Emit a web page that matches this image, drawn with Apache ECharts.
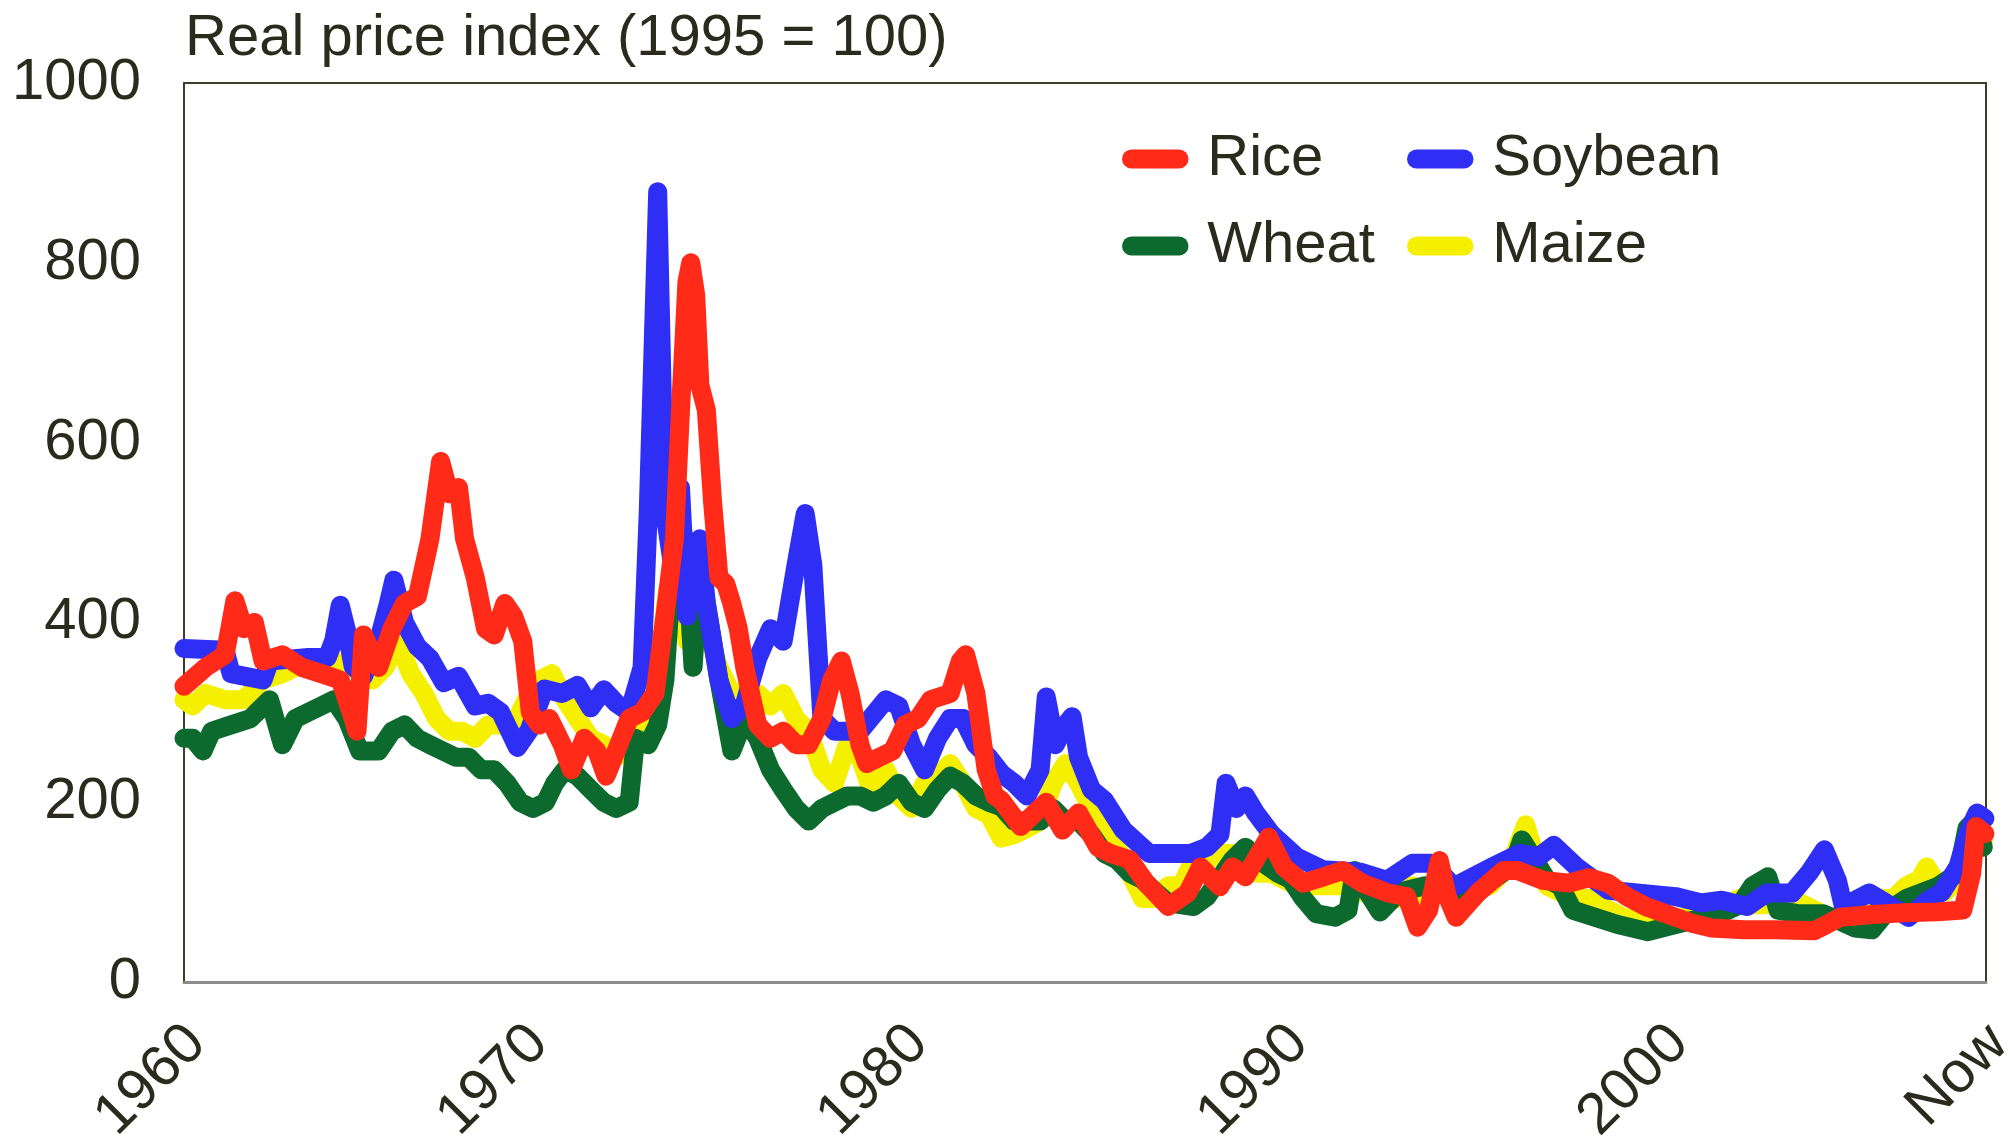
<!DOCTYPE html>
<html>
<head>
<meta charset="utf-8">
<title>Real price index</title>
<script src="https://cdn.jsdelivr.net/npm/echarts@6/dist/echarts.min.js"></script>
<style>
  html, body { margin: 0; padding: 0; background: #fff; }
  #chart { width: 2013px; height: 1141px; }
</style>
</head>
<body>
<div id="chart"></div>
<script>
// x range of the plot (years), label positions and their texts
var xStart = 1961;
var xEnd = 2008.4;
var xLabelValues = [1961, 1970, 1980, 1990, 2000, 2008.4];
var xLabelTexts = ['1960', '1970', '1980', '1990', '2000', 'Now'];

// [year, real price index]
var rice = [
  [1961.00, 329], [1961.57, 350], [1962.08, 364], [1962.34, 424], [1962.57, 393], [1962.85, 400],
  [1963.08, 357], [1963.59, 364], [1964.10, 350], [1964.61, 343], [1965.11, 336], [1965.45, 293],
  [1965.55, 279], [1965.72, 386], [1966.12, 350], [1966.47, 393], [1966.80, 421], [1967.14, 429],
  [1967.47, 493], [1967.75, 579], [1967.98, 543], [1968.22, 550], [1968.38, 493], [1968.66, 450],
  [1968.93, 393], [1969.16, 386], [1969.44, 421], [1969.67, 407], [1969.91, 379], [1970.11, 300],
  [1970.35, 286], [1970.61, 293], [1970.95, 264], [1971.19, 236], [1971.53, 271], [1971.86, 257],
  [1972.10, 229], [1972.37, 257], [1972.71, 293], [1973.05, 300], [1973.39, 321], [1973.65, 407],
  [1973.90, 493], [1974.06, 636], [1974.23, 779], [1974.33, 800], [1974.46, 764], [1974.57, 664],
  [1974.74, 636], [1974.90, 536], [1975.07, 450], [1975.25, 443], [1975.41, 421], [1975.58, 393],
  [1975.75, 350], [1976.09, 286], [1976.43, 271], [1976.76, 279], [1977.10, 264], [1977.43, 264],
  [1977.78, 293], [1978.04, 336], [1978.29, 357], [1978.52, 321], [1978.78, 264], [1978.96, 243],
  [1979.29, 250], [1979.64, 257], [1979.97, 286], [1980.31, 293], [1980.64, 314], [1981.15, 321],
  [1981.42, 357], [1981.56, 364], [1981.83, 321], [1982.10, 236], [1982.33, 207], [1982.50, 202],
  [1983.01, 173], [1983.68, 200], [1984.11, 169], [1984.53, 188], [1985.04, 150], [1985.37, 143],
  [1985.88, 136], [1986.31, 110], [1986.89, 84], [1987.40, 99], [1987.74, 128], [1988.25, 106],
  [1988.58, 128], [1988.92, 117], [1989.53, 161], [1989.93, 128], [1990.44, 110], [1990.98, 117],
  [1991.48, 124], [1991.99, 110], [1992.67, 99], [1993.16, 95], [1993.45, 61], [1993.74, 80],
  [1994.02, 135], [1994.23, 95], [1994.46, 72], [1995.03, 99], [1995.71, 124], [1996.08, 124],
  [1996.75, 113], [1997.43, 110], [1997.95, 116], [1998.45, 110], [1998.95, 95], [1999.45, 84],
  [1999.90, 77], [2000.30, 71], [2000.69, 65], [2001.18, 60], [2002.02, 58], [2002.87, 58],
  [2003.88, 57], [2004.21, 64], [2004.56, 72], [2005.40, 75], [2006.25, 77], [2007.12, 78],
  [2007.79, 80], [2008.02, 120], [2008.14, 173], [2008.37, 165]
];

var soybean = [
  [1961.00, 371], [1962.08, 369], [1962.24, 343], [1963.08, 336], [1963.25, 357], [1964.27, 361],
  [1964.77, 361], [1964.94, 380], [1965.11, 419], [1965.28, 390], [1965.45, 351], [1965.72, 340],
  [1966.12, 380], [1966.37, 420], [1966.52, 447], [1966.80, 400], [1967.14, 373], [1967.47, 360],
  [1967.83, 333], [1968.22, 340], [1968.66, 307], [1969.00, 310], [1969.33, 300], [1969.77, 261],
  [1970.08, 280], [1970.48, 326], [1970.95, 321], [1971.35, 330], [1971.70, 305], [1972.04, 325],
  [1972.37, 310], [1972.71, 300], [1973.05, 350], [1973.21, 521], [1973.46, 879], [1973.65, 521],
  [1973.90, 450], [1974.06, 550], [1974.23, 407], [1974.57, 493], [1974.74, 421], [1975.07, 336],
  [1975.41, 293], [1975.75, 310], [1976.09, 360], [1976.43, 393], [1976.76, 379], [1977.10, 464],
  [1977.34, 521], [1977.54, 464], [1977.78, 293], [1978.11, 279], [1978.78, 279], [1979.46, 314],
  [1979.80, 307], [1980.14, 264], [1980.48, 236], [1980.82, 271], [1981.15, 293], [1981.49, 293],
  [1981.83, 264], [1982.17, 250], [1982.50, 232], [1982.84, 221], [1983.17, 207], [1983.52, 236],
  [1983.68, 317], [1983.92, 264], [1984.19, 286], [1984.36, 295], [1984.53, 250], [1984.87, 214],
  [1985.21, 202], [1985.71, 169], [1986.39, 143], [1986.89, 143], [1987.49, 143], [1987.91, 150],
  [1988.25, 164], [1988.41, 221], [1988.68, 193], [1988.92, 207], [1989.19, 188], [1989.60, 165],
  [1990.27, 139], [1990.95, 125], [1991.96, 122], [1992.64, 113], [1993.31, 132], [1993.82, 132],
  [1994.41, 106], [1995.41, 128], [1996.13, 143], [1996.63, 139], [1997.03, 152], [1997.63, 128],
  [1998.47, 102], [2000.23, 95], [2000.91, 88], [2001.45, 91], [2002.12, 84], [2002.63, 99],
  [2003.30, 99], [2003.74, 121], [2004.15, 147], [2004.49, 113], [2004.65, 84], [2005.33, 99],
  [2005.77, 88], [2006.36, 72], [2006.84, 90], [2007.24, 100], [2007.66, 128], [2007.92, 165],
  [2008.16, 188], [2008.37, 182]
];

var wheat = [
  [1961.00, 271], [1961.23, 271], [1961.50, 257], [1961.73, 279], [1962.24, 286], [1962.75, 293],
  [1963.25, 314], [1963.59, 264], [1963.93, 293], [1964.27, 300], [1964.61, 307], [1964.94, 314],
  [1965.28, 293], [1965.62, 257], [1966.12, 257], [1966.47, 279], [1966.80, 286], [1967.14, 271],
  [1967.47, 264], [1967.81, 257], [1968.15, 250], [1968.49, 250], [1968.82, 236], [1969.16, 236],
  [1969.50, 221], [1969.84, 200], [1970.18, 193], [1970.51, 200], [1970.75, 221], [1971.02, 236],
  [1971.35, 229], [1971.70, 214], [1972.04, 200], [1972.37, 193], [1972.71, 200], [1972.88, 271],
  [1973.21, 264], [1973.46, 286], [1973.65, 336], [1973.90, 493], [1974.06, 521], [1974.23, 464],
  [1974.39, 350], [1974.57, 464], [1974.74, 421], [1975.07, 336], [1975.41, 257], [1975.75, 293],
  [1976.09, 271], [1976.43, 236], [1976.76, 214], [1977.10, 193], [1977.43, 179], [1977.78, 193],
  [1978.11, 200], [1978.45, 207], [1978.78, 207], [1979.13, 200], [1979.46, 207], [1979.80, 221],
  [1980.14, 200], [1980.48, 193], [1980.82, 214], [1981.15, 229], [1981.49, 221], [1981.83, 207],
  [1982.17, 200], [1982.50, 195], [1982.84, 179], [1983.17, 179], [1983.52, 179], [1983.86, 193],
  [1984.19, 179], [1984.53, 179], [1984.87, 164], [1985.21, 143], [1985.54, 136], [1985.88, 121],
  [1986.21, 114], [1986.56, 100], [1986.89, 88], [1987.56, 84], [1987.91, 95], [1988.58, 136],
  [1988.92, 150], [1989.26, 136], [1989.77, 121], [1990.11, 114], [1990.44, 93], [1990.78, 76],
  [1991.28, 72], [1991.62, 80], [1991.79, 124], [1992.13, 100], [1992.46, 78], [1992.97, 100],
  [1993.65, 107], [1994.32, 93], [1995.03, 102], [1995.67, 121], [1996.01, 136], [1996.19, 158],
  [1996.52, 136], [1996.85, 114], [1997.20, 107], [1997.53, 80], [1998.71, 64], [1999.51, 56],
  [2000.23, 64], [2000.91, 71], [2001.42, 76], [2001.93, 86], [2002.26, 107], [2002.66, 117],
  [2002.93, 80], [2003.44, 76], [2004.12, 76], [2004.96, 60], [2005.40, 58], [2005.81, 79],
  [2006.31, 93], [2007.12, 106], [2007.66, 121], [2007.90, 171], [2008.11, 180], [2008.33, 150]
];

var maize = [
  [1961.00, 314], [1961.23, 307], [1961.57, 321], [1962.08, 314], [1962.57, 314], [1963.08, 336],
  [1963.59, 343], [1964.27, 357], [1964.77, 361], [1965.28, 350], [1965.62, 350], [1965.96, 336],
  [1966.29, 350], [1966.63, 379], [1966.96, 343], [1967.31, 321], [1967.64, 293], [1967.98, 279],
  [1968.32, 279], [1968.66, 271], [1969.00, 286], [1969.33, 286], [1969.67, 286], [1970.00, 314],
  [1970.35, 336], [1970.68, 343], [1971.02, 314], [1971.35, 293], [1971.70, 271], [1972.04, 264],
  [1972.37, 250], [1972.71, 271], [1973.05, 293], [1973.39, 321], [1973.72, 436], [1973.90, 421],
  [1974.06, 464], [1974.23, 379], [1974.39, 407], [1974.74, 393], [1975.07, 350], [1975.41, 321],
  [1975.75, 321], [1976.09, 321], [1976.43, 307], [1976.76, 321], [1977.10, 293], [1977.43, 279],
  [1977.78, 236], [1978.11, 221], [1978.45, 264], [1978.78, 250], [1979.13, 207], [1979.46, 236],
  [1979.80, 207], [1980.14, 193], [1980.48, 221], [1980.82, 229], [1981.15, 243], [1981.49, 221],
  [1981.83, 193], [1982.17, 186], [1982.50, 160], [1982.84, 164], [1983.17, 171], [1983.52, 179],
  [1983.86, 221], [1984.19, 243], [1984.53, 221], [1984.87, 193], [1985.21, 164], [1985.54, 150],
  [1985.88, 121], [1986.21, 93], [1986.56, 93], [1986.89, 107], [1987.23, 107], [1987.56, 136],
  [1987.91, 136], [1988.25, 143], [1988.58, 143], [1988.92, 129], [1989.26, 121], [1989.60, 121],
  [1989.93, 114], [1990.27, 107], [1990.95, 107], [1991.62, 107], [1991.96, 100], [1992.30, 114],
  [1992.64, 100], [1992.97, 93], [1993.31, 107], [1993.65, 93], [1993.99, 100], [1994.66, 100],
  [1994.99, 107], [1995.34, 107], [1995.67, 121], [1996.01, 143], [1996.29, 175], [1996.52, 143],
  [1996.85, 107], [1997.20, 100], [1997.53, 93], [1998.04, 93], [1998.21, 86], [1998.54, 79],
  [1998.89, 71], [1999.73, 71], [2000.40, 71], [2000.74, 76], [2001.24, 79], [2001.59, 86],
  [2001.93, 93], [2002.26, 86], [2002.60, 86], [2002.93, 93], [2003.28, 93], [2003.61, 86],
  [2003.95, 79], [2004.28, 71], [2004.63, 76], [2004.96, 79], [2005.30, 86], [2005.63, 93],
  [2005.97, 93], [2006.31, 107], [2006.65, 114], [2006.84, 128], [2007.16, 107], [2007.32, 100],
  [2007.66, 114], [2007.90, 150], [2008.16, 164], [2008.33, 157]
];

var textColor = '#2b2b1d';
var fontFamily = "'Liberation Sans', Arial, sans-serif";
var pill = 'path://M10,0 L60,0 A10,10 0 0 1 60,20 L10,20 A10,10 0 0 1 10,0 Z';

function makeLine(name, data, color) {
  return {
    name: name,
    type: 'line',
    data: data,
    showSymbol: false,
    symbol: 'none',
    color: color,
    lineStyle: { width: 19, color: color, cap: 'round', join: 'round' },
    emphasis: { disabled: true }
  };
}

function makeLegend(names, left) {
  return {
    data: names,
    orient: 'vertical',
    left: left,
    top: 124,
    itemWidth: 70,
    itemHeight: 19,
    itemGap: 27,
    icon: pill,
    selectedMode: false,
    textStyle: { fontSize: 58, color: textColor, fontFamily: fontFamily, lineHeight: 60, padding: [0, 0, 0, 12] }
  };
}

var myChart = echarts.init(document.getElementById('chart'));
var option = {
  animation: false,
  backgroundColor: '#ffffff',
  title: {
    text: 'Real price index (1995 = 100)',
    left: 180,
    top: 5,
    textStyle: { fontSize: 58, fontWeight: 'normal', color: textColor, fontFamily: fontFamily }
  },
  legend: [
    makeLegend(['Rice', 'Wheat'], 1117),
    makeLegend(['Soybean', 'Maize'], 1402)
  ],
  grid: {
    left: 184,
    right: 27,
    top: 83,
    bottom: 159,
    containLabel: false,
    outerBoundsMode: 'none',
    show: true,
    borderColor: '#3d3d2b',
    borderWidth: 2
  },
  xAxis: {
    type: 'value',
    min: xStart,
    max: xEnd,
    splitLine: { show: false },
    axisTick: { show: false },
    axisLine: { show: true, lineStyle: { color: '#8c8c8c', width: 3 } },
    axisLabel: {
      customValues: xLabelValues,
      rotate: 45,
      margin: 40,
      align: 'right',
      verticalAlign: 'top',
      lineHeight: 36,
      hideOverlap: false,
      fontSize: 58,
      color: textColor,
      fontFamily: fontFamily,
      formatter: function (v) {
        var i = xLabelValues.indexOf(v);
        return i >= 0 ? xLabelTexts[i] : '';
      }
    }
  },
  yAxis: {
    type: 'value',
    min: 0,
    max: 1000,
    interval: 200,
    splitLine: { show: false },
    axisTick: { show: false },
    axisLine: { show: false },
    axisLabel: {
      margin: 43,
      fontSize: 58,
      color: textColor,
      fontFamily: fontFamily,
      formatter: function (v) { return String(v); }
    }
  },
  series: [
    makeLine('Maize', maize, '#f5f000'),
    makeLine('Wheat', wheat, '#0d6a2f'),
    makeLine('Soybean', soybean, '#2e2ef5'),
    makeLine('Rice', rice, '#ff2a17')
  ]
};
myChart.setOption(option);
</script>
</body>
</html>
